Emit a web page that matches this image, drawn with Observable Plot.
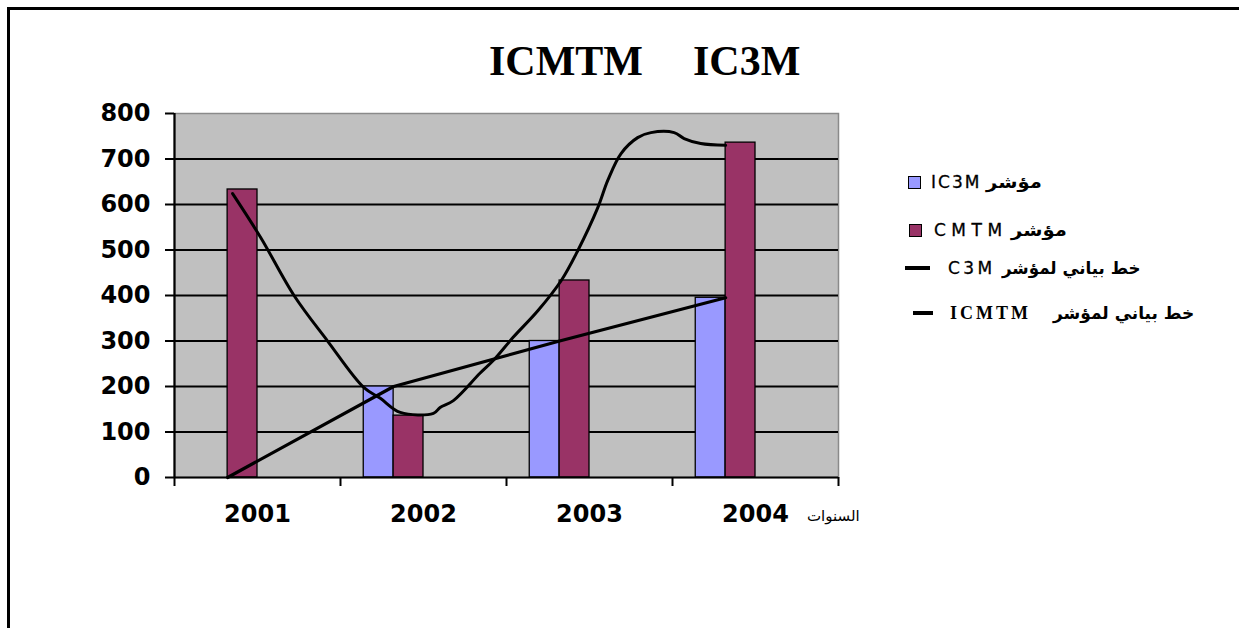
<!DOCTYPE html>
<html>
<head>
<meta charset="utf-8">
<script src="https://cdn.jsdelivr.net/npm/d3@7"></script>
<script src="https://cdn.jsdelivr.net/npm/@observablehq/plot@0.6"></script>
<style>
  body { margin: 0; background: #fff; }
  #page { position: relative; width: 1239px; height: 628px; overflow: hidden; background: #fff; }
  #border { position: absolute; left: 7px; top: 7px; width: 1300px; height: 700px; border-top: 3px solid #000; border-left: 3px solid #000; }
  #chart { position: absolute; left: 0; top: 0; }
  #title { position: absolute; left: 489px; top: 40px; font-family: "Liberation Serif", serif; font-weight: bold; font-size: 42px; color: #000; white-space: nowrap; line-height: 1; }
  #title span + span { margin-left: 50px; }
  #xlabel { position: absolute; left: 807px; top: 507px; font-family: "DejaVu Sans", sans-serif; font-size: 15px; color: #000; direction: rtl; white-space: nowrap; }
  .lg { position: absolute; display: flex; align-items: center; direction: ltr; white-space: nowrap; height: 24px; }
  .sq { width: 11px; height: 11px; border: 1.5px solid #000; }
  .ln { height: 3.5px; background: #000; }
  .code { font-family: "DejaVu Sans", sans-serif; font-size: 17px; color: #000; -webkit-text-stroke: 0.3px #000; }
  .code2 { font-family: "Liberation Serif", serif; font-weight: bold; font-size: 18px; letter-spacing: 3px; color: #000; }
  .ar { font-family: "DejaVu Sans", sans-serif; font-weight: bold; font-size: 17px; direction: rtl; unicode-bidi: isolate; color: #000; display: inline-block; transform-origin: left center; }
</style>
</head>
<body>
<div id="page">
  <div id="border"></div>
  <div id="chart"></div>
  <div id="title"></div>
  <div id="xlabel"></div>
  <div id="legend"></div>
</div>
<script>
// ---- data ----
const years = [2001, 2002, 2003, 2004];
const ic3m = [0, 200, 300, 395];
const cmtm = [633, 136, 433, 736];
const yTicks = [0, 100, 200, 300, 400, 500, 600, 700, 800];
const seriesNames = ["IC3M", "CMTM"];
const seriesColors = ["#9999ff", "#993366"];
// smoothed CMTM curve (year position, value)
const curveYear = [2000.85, 2001.02, 2001.22, 2001.42, 2001.64, 2001.74, 2001.86, 2002.06, 2002.10, 2002.18, 2002.34, 2002.42, 2002.54, 2002.69, 2002.83, 2002.93, 2003.05, 2003.11, 2003.19, 2003.29, 2003.37, 2003.51, 2003.57, 2003.67, 2003.82];
const curveValue = [624, 527, 400, 301, 198, 174, 143, 141, 154, 169, 229, 257, 308, 367, 433, 499, 593, 653, 712, 747, 758, 758, 745, 734, 730];
const titleParts = ["ICMTM", "IC3M"];
const xAxisLabel = "السنوات";
const legendCodes = ["IC3M", "CMTM", "C3M", "ICMTM"];
const legendTexts = ["مؤشر", "مؤشر", "خط بياني لمؤشر", "خط بياني لمؤشر"];
const legendKinds = ["square", "square", "line", "line"];

// ---- layout constants ----
const barW = 0.18; // bar width in year units
const bars = years.flatMap((yr, i) => [
  { series: seriesNames[0], value: ic3m[i], x1: yr - 2 * barW, x2: yr - barW },
  { series: seriesNames[1], value: cmtm[i], x1: yr - barW, x2: yr }
]);
const ic3mLine = years.map((yr, i) => ({ x: yr - barW, y: ic3m[i] }));
const cmtmCurve = curveYear.map((x, i) => ({ x, y: curveValue[i] }));
const bounds = [years[0] - 0.5, ...years.map(y => y + 0.5)];

const chart = Plot.plot({
  width: 1239,
  height: 628,
  marginLeft: 174,
  marginRight: 401,
  marginTop: 113,
  marginBottom: 151,
  style: { background: "transparent", fontFamily: "DejaVu Sans, sans-serif", color: "#000" },
  x: { domain: [bounds[0], bounds[bounds.length - 1]] },
  y: { domain: [0, 800] },
  color: { domain: seriesNames, range: seriesColors },
  marks: [
    Plot.frame({ fill: "#c0c0c0", stroke: "#8a8a8a", strokeWidth: 1.5 }),
    Plot.gridY(yTicks.slice(1, -1), { stroke: "#000", strokeOpacity: 1, strokeWidth: 1.8 }),
    Plot.rectY(bars, { x1: "x1", x2: "x2", y: "value", fill: "series", stroke: "#000", strokeWidth: 1.3 }),
    Plot.line(ic3mLine, { x: "x", y: "y", stroke: "#000", strokeWidth: 3.2 }),
    Plot.line(cmtmCurve, { x: "x", y: "y", stroke: "#000", strokeWidth: 3, curve: "catmull-rom" }),
    Plot.ruleY([0], { stroke: "#000", strokeWidth: 2.2 }),
    Plot.ruleX([bounds[0]], { stroke: "#000", strokeWidth: 2.2 }),
    Plot.axisY({ ticks: yTicks, tickSize: 9, tickPadding: 15, fontSize: 24, fontWeight: "bold", label: null, stroke: "#000", strokeWidth: 2 }),
    Plot.axisX({ ticks: bounds, tickSize: 9, tickFormat: () => "", label: null, stroke: "#000", strokeWidth: 2 }),
    Plot.axisX({ ticks: years, tickSize: 0, tickPadding: 27, tickFormat: d => String(d), fontSize: 24, fontWeight: "bold", label: null })
  ]
});
document.getElementById("chart").appendChild(chart);

// title
const title = document.getElementById("title");
titleParts.forEach(t => { const s = document.createElement("span"); s.textContent = t; title.appendChild(s); });
document.getElementById("xlabel").textContent = xAxisLabel;

// legend layout (pixels)
const legendLayout = [
  { left: 908, top: 170, mw: 0, gap1: 10, ls: 2, gap2: 5, sx: 1.15 },
  { left: 909, top: 218, mw: 0, gap1: 12, ls: 5.5, gap2: 3, sx: 1.15 },
  { left: 905, top: 256, mw: 25, gap1: 18, ls: 3.4, gap2: 6, sx: 0.98 },
  { left: 913, top: 301, mw: 20, gap1: 17, ls: 0, gap2: 22, sx: 1.0 }
];
const legend = document.getElementById("legend");
legendCodes.forEach((code, i) => {
  const L = legendLayout[i];
  const row = document.createElement("div");
  row.className = "lg";
  row.style.left = L.left + "px";
  row.style.top = L.top + "px";
  const m = document.createElement("div");
  if (legendKinds[i] === "square") {
    m.className = "sq";
    m.style.background = seriesColors[i];
  } else {
    m.className = "ln";
    m.style.width = L.mw + "px";
  }
  m.style.marginRight = L.gap1 + "px";
  row.appendChild(m);
  const c = document.createElement("span");
  c.className = i === 3 ? "code2" : "code";
  if (i !== 3) c.style.letterSpacing = L.ls + "px";
  c.textContent = code;
  row.appendChild(c);
  const a = document.createElement("span");
  a.className = "ar";
  a.style.marginLeft = L.gap2 + "px";
  a.style.transform = "scaleX(" + L.sx + ")";
  a.textContent = legendTexts[i];
  row.appendChild(a);
  legend.appendChild(row);
});
</script>
</body>
</html>
